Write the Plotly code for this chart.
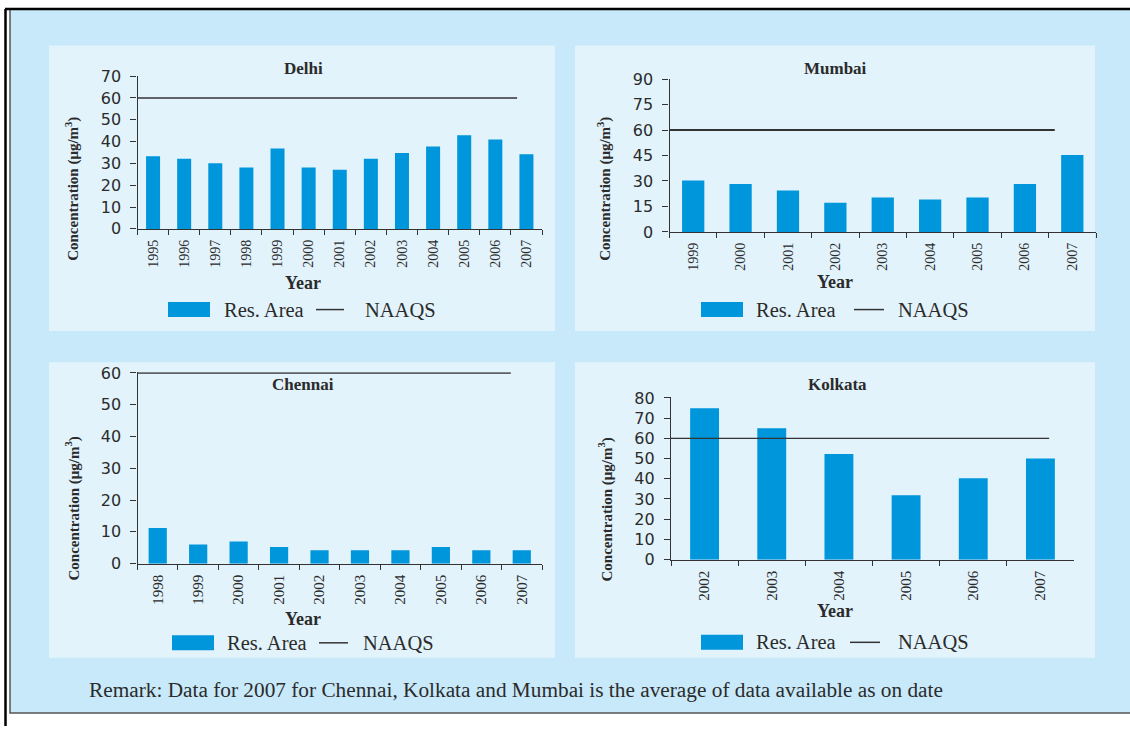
import plotly.graph_objects as go

W, H = 1130, 736

# ---------------- data ----------------
delhi_years = ["1995", "1996", "1997", "1998", "1999", "2000", "2001",
               "2002", "2003", "2004", "2005", "2006", "2007"]
delhi_res = [33.3, 32.2, 30.1, 28.1, 36.9, 28.1, 27.1, 32.2, 34.8, 37.8, 42.9, 41.0, 34.2]

mumbai_years = ["1999", "2000", "2001", "2002", "2003", "2004", "2005", "2006", "2007"]
mumbai_res = [30.3, 28.3, 24.4, 17.2, 20.3, 19.1, 20.3, 28.3, 45.3]

chennai_years = ["1998", "1999", "2000", "2001", "2002", "2003", "2004", "2005", "2006", "2007"]
chennai_res = [11.2, 6.0, 7.0, 5.2, 4.2, 4.2, 4.2, 5.2, 4.2, 4.2]

kolkata_years = ["2002", "2003", "2004", "2005", "2006", "2007"]
kolkata_res = [74.9, 65.0, 52.3, 31.9, 40.2, 50.0]

naaqs_limit = 60

city_names = ["Delhi", "Mumbai", "Chennai", "Kolkata"]
y_max = [70, 90, 60, 80]
y_step = [10, 15, 10, 10]

series_label = "Res. Area"
limit_label = "NAAQS"
x_title = "Year"
y_title = "Concentration (μg/m<sup>3</sup>)"
remark = "Remark: Data for 2007 for Chennai, Kolkata and Mumbai is the average of data available as on date"

years_all = [delhi_years, mumbai_years, chennai_years, kolkata_years]
res_all = [delhi_res, mumbai_res, chennai_res, kolkata_res]

# ---------------- styles / layout (pixels) ----------------
BAR = "#0096DB"
OUTER = "#C8E9FA"
INNER = "#E2F3FC"
INK = "#2b2b2b"
AX = "#333333"
SERIF = "Liberation Serif"
SANS = "DejaVu Sans"

panels = [
    dict(box=(49, 45, 555, 330), plot=(137.5, 75, 542, 228), title=(303, 68),
         ytitle=(73, 188), xtitle=(303, 282), leg_y=308.5,
         leg=(168, 210, 222, 316, 344, 363), bar_w=0.45, xfont=14, line_end=0.3, lw=1.5),
    dict(box=(575, 45, 1095, 330), plot=(669.5, 78, 1096, 231), title=(835, 68),
         ytitle=(605, 188), xtitle=(835, 281), leg_y=308.5,
         leg=(701, 743, 754, 854, 884, 896), bar_w=0.47, xfont=14, line_end=0.37, lw=2.0),
    dict(box=(49, 361, 555, 656), plot=(137.5, 371, 542, 562), title=(303, 383),
         ytitle=(73, 507), xtitle=(303, 617), leg_y=641,
         leg=(172, 214, 225, 319, 348, 361), bar_w=0.45, xfont=15, line_end=0.27, lw=1.6),
    dict(box=(575, 361, 1095, 656), plot=(671, 396, 1074, 558), title=(837, 383),
         ytitle=(606, 508), xtitle=(835, 609), leg_y=640.5,
         leg=(701, 743, 754, 850, 880, 896), bar_w=0.43, xfont=15, line_end=-0.13, lw=1.4),
]

# the page is photographed with a small vertical offset/scale; compensate
Y_OFF, Y_SCALE = 8.6, 0.972


def px(x):
    return x / W


def py(y):
    yy = (y - Y_OFF) / Y_SCALE
    yy = min(max(yy, 0.0), H)
    return 1 - yy / H


fig = go.Figure()
shapes = []
annotations = []

# outer frame
shapes.append(dict(type="rect", xref="paper", yref="paper", x0=px(10), x1=px(1133),
                   y0=py(711), y1=py(8.8), fillcolor=OUTER, line=dict(color="#555555", width=1.5),
                   layer="below"))
shapes.append(dict(type="line", xref="paper", yref="paper", x0=px(5.5), x1=px(5.5),
                   y0=0, y1=1, line=dict(color="black", width=2.5), layer="above"))
shapes.append(dict(type="line", xref="paper", yref="paper", x0=px(5), x1=1,
                   y0=py(0), y1=py(0), line=dict(color="black", width=2.5), layer="above"))


def note(text, x, y, size, xanchor="center", angle=0):
    annotations.append(dict(text=text, x=px(x), y=py(y), xref="paper", yref="paper",
                            xanchor=xanchor, yanchor="middle", showarrow=False,
                            textangle=angle, font=dict(family=SERIF, size=size, color=INK)))


layout_axes = {}
for i, (name, yrs, vals, ym, ys, p) in enumerate(
        zip(city_names, years_all, res_all, y_max, y_step, panels), start=1):
    n = len(yrs)
    bx0, by0, bx1, by1 = p["box"]
    shapes.append(dict(type="rect", xref="paper", yref="paper", x0=px(bx0), x1=px(bx1),
                       y0=py(by1), y1=py(by0), fillcolor=INNER, line=dict(width=0),
                       layer="below"))
    x0, y0, x1, y1 = p["plot"]

    fig.add_trace(go.Bar(x=yrs, y=vals, name=series_label, xaxis=f"x{i}", yaxis=f"y{i}",
                         marker=dict(color=BAR, line=dict(width=0)), width=p["bar_w"],
                         showlegend=False))
    fig.add_trace(go.Scatter(x=[-0.5, n - 1 - p["line_end"]], y=[naaqs_limit, naaqs_limit],
                             mode="lines", name=limit_label, xaxis=f"x{i + 4}", yaxis=f"y{i}",
                             line=dict(color=AX, width=p["lw"]), showlegend=False))

    layout_axes[f"xaxis{i}"] = dict(
        type="category", categoryorder="array", categoryarray=yrs, range=[-0.5, n - 0.5],
        domain=[px(x0), px(x1)], anchor=f"y{i}", showline=True, linecolor=AX, linewidth=1.3,
        ticks="outside", tickson="boundaries", ticklen=5, tickcolor=AX, tickwidth=1.3,
        tickangle=-90, tickfont=dict(family=SERIF, size=p["xfont"], color=INK),
        showgrid=False, zeroline=False, fixedrange=True, ticklabelstandoff=4)
    layout_axes[f"xaxis{i + 4}"] = dict(overlaying=f"x{i}", anchor=f"y{i}",
                                        range=[-0.5, n - 0.5], visible=False,
                                        showticklabels=False, fixedrange=True)
    layout_axes[f"yaxis{i}"] = dict(
        range=[0, ym * 1.004], tick0=0, dtick=ys, domain=[py(y1), py(y0)], anchor=f"x{i}",
        showline=True, linecolor=AX, linewidth=1.3, ticks="outside", ticklen=6,
        tickcolor=AX, tickwidth=1.3, tickfont=dict(family=SANS, size=16, color=INK),
        showgrid=False, zeroline=False, fixedrange=True, ticklabelstandoff=6)

    tx, ty = p["title"]
    note(f"<b>{name}</b>", tx, ty, 17)
    yx, yy = p["ytitle"]
    note(f"<b>{y_title}</b>", yx, yy, 15, angle=-90)
    xx, xy = p["xtitle"]
    note(f"<b>{x_title}</b>", xx, xy, 18)
    # legend
    lb0, lb1, lt1, ll0, ll1, lt2 = p["leg"]
    ly = p["leg_y"]
    shapes.append(dict(type="rect", xref="paper", yref="paper", x0=px(lb0), x1=px(lb1),
                       y0=py(ly + 7.5), y1=py(ly - 7.5), fillcolor=BAR, line=dict(width=0)))
    shapes.append(dict(type="line", xref="paper", yref="paper", x0=px(ll0), x1=px(ll1),
                       y0=py(ly), y1=py(ly), line=dict(color=AX, width=1.5)))
    note(series_label, lt1, ly, 20.5, xanchor="left")
    note(limit_label, lt2, ly, 20.5, xanchor="left")

note(remark, 87, 688, 21.3, xanchor="left")

fig.update_layout(
    width=W, height=H, autosize=False,
    margin=dict(l=0, r=0, t=0, b=0, pad=0),
    paper_bgcolor="white", plot_bgcolor="rgba(0,0,0,0)",
    shapes=shapes, annotations=annotations, showlegend=False,
    **layout_axes,
)

fig.write_html(
    "out.html",
    config={"displayModeBar": False, "responsive": False},
    post_script=("document.documentElement.style.margin='0';"
                 "document.documentElement.style.overflow='hidden';"
                 "document.body.style.margin='0';"
                 "document.body.style.overflow='hidden';"
                 "var gd=document.getElementById('{plot_id}');"
                 "gd.style.position='absolute';gd.style.left='0px';gd.style.top='0px';"),
)
